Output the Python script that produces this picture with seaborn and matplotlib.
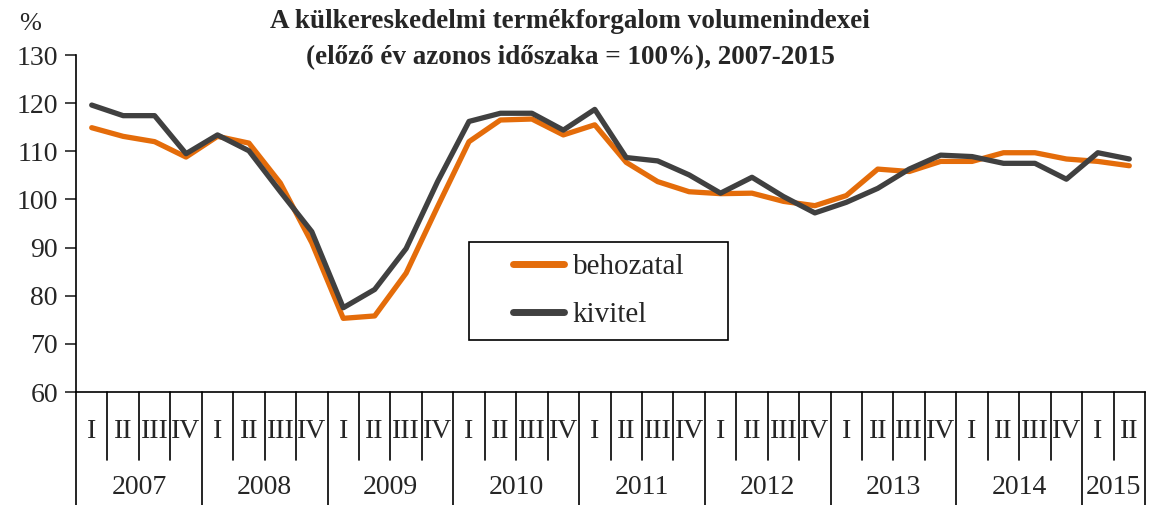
import matplotlib
matplotlib.use("Agg")
import matplotlib.pyplot as plt
import matplotlib.transforms as mtransforms
from matplotlib.patches import Rectangle
import numpy as np
import pandas as pd
import seaborn as sns

# quarterly volume indices, previous year same period = 100%
years = [2007, 2008, 2009, 2010, 2011, 2012, 2013, 2014, 2015]
quarters_per_year = [4, 4, 4, 4, 4, 4, 4, 4, 2]
quarter_names = ["I", "II", "III", "IV"]

behozatal = [114.9, 113.1, 112.0, 108.8, 113.1, 111.7, 103.4, 91.0,
             75.3, 75.8, 84.7, 98.5, 112.0, 116.5, 116.7, 113.4,
             115.5, 107.7, 103.7, 101.6, 101.2, 101.3, 99.6, 98.7,
             100.8, 106.3, 105.8, 107.9, 107.9, 109.7, 109.7, 108.4,
             107.9, 107.0]
kivitel = [119.6, 117.4, 117.4, 109.5, 113.4, 110.1, 101.6, 93.3,
           77.5, 81.3, 89.8, 103.7, 116.2, 117.9, 117.9, 114.4,
           118.7, 108.7, 108.0, 105.1, 101.3, 104.6, 100.6, 97.2,
           99.4, 102.3, 106.3, 109.2, 108.9, 107.5, 107.5, 104.2,
           109.7, 108.4]

periods = [f"{y} {q}" for y, n in zip(years, quarters_per_year)
           for q in quarter_names[:n]]
q_labels = [q for n in quarters_per_year for q in quarter_names[:n]]

df = pd.DataFrame({
    "period": periods * 2,
    "value": behozatal + kivitel,
    "series": ["behozatal"] * len(periods) + ["kivitel"] * len(periods),
})

sns.set_style("white")
plt.rcParams["font.family"] = ["Liberation Serif", "DejaVu Serif"]

W, H = 1151, 505
fig = plt.figure(figsize=(W / 100, H / 100), dpi=100)
ax = fig.add_axes([76 / W, 1 - 392 / H, (1145 - 76) / W, 337 / H])

sns.lineplot(data=df, x="period", y="value", hue="series", sort=False,
             palette={"behozatal": "#E46C0A", "kivitel": "#404040"},
             linewidth=3.8, ax=ax)

ax.set_xlim(-0.5, len(periods) - 0.5)
ax.set_ylim(60, 130)
ax.set_yticks(range(60, 131, 10))
ax.tick_params(axis="y", labelsize=20, length=8, width=1.2, direction="out",
               left=True, pad=5)
ax.set_xticks([])
ax.set_xlabel("")
ax.set_ylabel("")
for side in ["top", "right"]:
    ax.spines[side].set_visible(False)
for side in ["left", "bottom"]:
    ax.spines[side].set_color("black")
    ax.spines[side].set_linewidth(1.2)

# legend: text and handles without frame, box drawn separately
leg = ax.legend(loc="upper left", bbox_to_anchor=(513 / W, 1 - 254 / H),
                bbox_transform=fig.transFigure, fontsize=21, frameon=False,
                borderpad=0, borderaxespad=0, handlelength=1.75,
                labelspacing=0.72, handletextpad=0.3)
for line in leg.get_lines():
    line.set_linewidth(5)
    line.set_solid_capstyle("round")
fig.patches.append(Rectangle((469 / W, 1 - 340 / H), (728 - 469) / W, 98 / H,
                             transform=fig.transFigure, fill=False,
                             edgecolor="black", linewidth=1.2, zorder=5))

# category table below the axis
trans = mtransforms.blended_transform_factory(ax.transData, ax.transAxes)
q_row = -68 / 337
y_row = -113 / 337
for i, lab in enumerate(q_labels):
    ax.text(i, -40 / 337, lab, transform=trans, ha="center", va="center",
            fontsize=20, clip_on=False)
start = 0
bounds = [-0.5]
for y, n in zip(years, quarters_per_year):
    ax.text(start + (n - 1) / 2, -96 / 337, str(y), transform=trans,
            ha="center", va="center", fontsize=20, clip_on=False)
    start += n
    bounds.append(start - 0.5)
for k in range(len(periods) + 1):
    x = k - 0.5
    y_end = y_row if x in bounds else q_row
    ax.plot([x, x], [0, y_end], transform=trans, color="black", lw=1.2,
            clip_on=False)

fig.text(30 / W, 1 - 24 / H, "%", fontsize=19, ha="center", va="center")
fig.text(570 / W, 1 - 21 / H, "A külkereskedelmi termékforgalom volumenindexei",
         fontsize=19.5, fontweight="bold", ha="center", va="center")
fig.text(570 / W, 1 - 58 / H, "(előző év azonos időszaka = 100%), 2007-2015",
         fontsize=19.5, fontweight="bold", ha="center", va="center")

fig.savefig("out.png", dpi=100)
